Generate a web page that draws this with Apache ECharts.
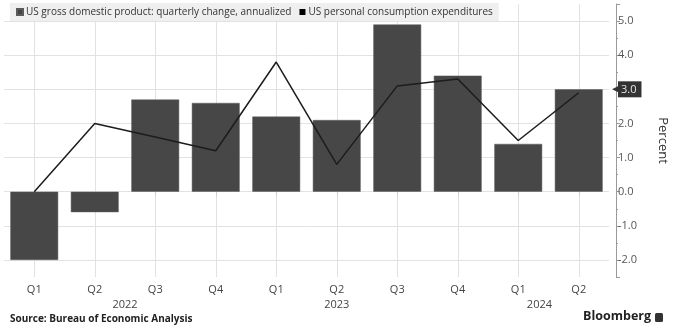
<!DOCTYPE html>
<html>
<head>
<meta charset="utf-8">
<script src="https://cdn.jsdelivr.net/npm/echarts@6/dist/echarts.min.js"></script>
<style>html,body{margin:0;padding:0;background:#fff}#c{width:677px;height:329px}</style>
</head>
<body>
<div id="c"></div>
<script>
const quarters = ['Q1','Q2','Q3','Q4','Q1','Q2','Q3','Q4','Q1','Q2'];
const gdp = [-2.0, -0.6, 2.7, 2.6, 2.2, 2.1, 4.9, 3.4, 1.4, 3.0];
const pce = [0.0, 2.0, 1.6, 1.2, 3.8, 0.8, 3.1, 3.3, 1.5, 2.9];
const years = ['2022', '2023', '2024'];
const yearAt = [1.5, 5, 8.35];
const seriesNames = ['US gross domestic product: quarterly change, annualized', 'US personal consumption expenditures'];
const lastGdp = gdp[gdp.length - 1];
const yMin = -2.5, yMax = 5.5;

const font = '"Open Sans", "Noto Sans", sans-serif';
const gridColor = '#e2e2e2';

const gridLineData = [];
for (let v = Math.ceil(yMin); v <= Math.floor(yMax); v++) gridLineData.push({yAxis: v});
quarters.forEach(function (q, i) { gridLineData.push({xAxis: i}); });

const chart = echarts.init(document.getElementById('c'), null, {renderer: 'canvas'});
chart.setOption({
  animation: false,
  backgroundColor: '#fff',
  textStyle: {fontFamily: font},
  legend: {
    left: 10, top: 3,
    backgroundColor: '#efefef',
    padding: [4, 6],
    itemWidth: 6, itemHeight: 6, itemGap: 8,
    icon: 'rect',
    textStyle: {fontSize: 10, color: '#333', fontFamily: font, padding: [0, 0, 0, -2]},
    data: [{name: seriesNames[0], itemStyle: {color: '#444'}}, {name: seriesNames[1], itemStyle: {color: '#000'}}]
  },
  grid: {left: 4, right: 61, top: 4, bottom: 52, containLabel: false},
  xAxis: [{
    type: 'category',
    data: quarters,
    boundaryGap: true,
    axisLine: {show: false},
    axisTick: {show: true, alignWithLabel: true, length: 5, lineStyle: {color: '#d0d0d0'}},
    splitLine: {show: false},
    axisLabel: {color: '#444', fontSize: 11, margin: 7, fontFamily: font}
  }, {
    type: 'value',
    position: 'bottom',
    min: -0.5, max: 9.5,
    offset: 15,
    axisLine: {show: false, onZero: false},
    axisTick: {show: false},
    splitLine: {show: false},
    axisLabel: {
      customValues: yearAt,
      color: '#444', fontSize: 11, margin: 7, fontFamily: font,
      formatter: function (v) { const i = yearAt.indexOf(v); return i >= 0 ? years[i] : ''; }
    }
  }],
  yAxis: {
    type: 'value',
    position: 'right',
    offset: 7,
    min: yMin, max: yMax,
    splitNumber: 8,
    name: 'Percent',
    nameLocation: 'middle',
    nameRotate: -90,
    nameGap: 40,
    nameTextStyle: {fontSize: 13, color: '#333', fontFamily: font},
    axisLine: {show: true, onZero: false, lineStyle: {color: '#9a9a9a'}},
    axisTick: {show: true, length: 4, lineStyle: {color: '#9a9a9a'}},
    minorTick: {show: true, splitNumber: 2, length: 2, lineStyle: {color: '#9a9a9a'}},
    splitLine: {show: false},
    axisLabel: {
      showMinLabel: false, showMaxLabel: false,
      color: '#555', fontSize: 11, margin: 2, fontFamily: font,
      formatter: function (v) { return v.toFixed(1); }
    }
  },
  series: [{
    name: 'gridlines',
    type: 'line',
    data: [],
    silent: true,
    z: 0,
    markLine: {
      silent: true,
      z: 0,
      symbol: 'none',
      label: {show: false},
      lineStyle: {color: gridColor, width: 1, type: 'solid'},
      emphasis: {disabled: true},
      data: gridLineData
    }
  }, {
    name: seriesNames[0],
    type: 'bar',
    data: gdp,
    z: 2,
    barCategoryGap: '21%',
    itemStyle: {color: '#474747', borderColor: '#5a5a5a', borderWidth: 0.5},
    markLine: {
      silent: true,
      symbol: 'none',
      lineStyle: {width: 0, color: 'rgba(0,0,0,0)'},
      data: [{yAxis: lastGdp}],
      label: {
        show: true,
        position: 'end',
        distance: 3,
        formatter: '{a|◀}{b|' + lastGdp.toFixed(1) + '}',
        rich: {
          a: {color: '#333', fontSize: 11, padding: [0, -2, 0, 0]},
          b: {color: '#e6e6e6', backgroundColor: '#333', fontSize: 11, padding: [3, 5, 2, 3], fontFamily: font}
        }
      }
    }
  }, {
    name: seriesNames[1],
    type: 'line',
    data: pce,
    symbol: 'none',
    z: 5,
    lineStyle: {color: '#1c1c1c', width: 1.5},
    itemStyle: {color: '#000'}
  }],
  graphic: [{
    type: 'text', left: 10, top: 314,
    style: {text: 'Source: Bureau of Economic Analysis', fill: '#222', font: 'bold 10px ' + font}
  }, {
    type: 'text', right: 26, top: 310,
    style: {text: 'Bloomberg', fill: '#222', font: 'bold 12.5px ' + font}
  }, {
    type: 'rect', right: 14, top: 313, shape: {width: 8, height: 9, r: 1.5},
    style: {fill: '#333'}
  }]
});
</script>
</body>
</html>
